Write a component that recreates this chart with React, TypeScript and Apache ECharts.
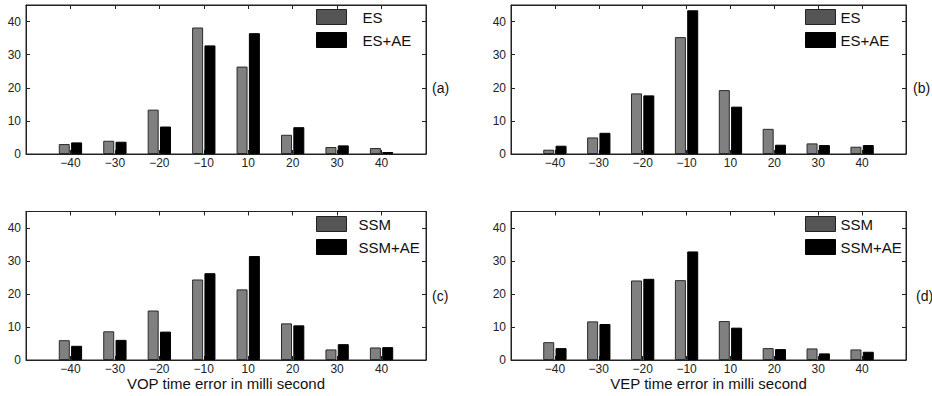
import React, { useEffect, useRef } from "react";
import * as echarts from "echarts";

const tickLabels = ["−40", "−30", "−20", "−10", "10", "20", "30", "40"];
const yTicks = [0, 10, 20, 30, 40];

const esA = [3.0, 4.0, 13.4, 38.2, 26.4, 5.8, 2.1, 1.8];
const esAeA = [3.5, 3.7, 8.3, 32.8, 36.5, 8.1, 2.6, 0.6];
const esB = [1.3, 5.0, 18.3, 35.3, 19.3, 7.6, 3.2, 2.2];
const esAeB = [2.5, 6.4, 17.7, 43.4, 14.3, 2.8, 2.7, 2.7];
const ssmC = [6.0, 8.7, 15.0, 24.4, 21.4, 11.1, 3.2, 3.8];
const ssmAeC = [4.3, 6.1, 8.6, 26.3, 31.5, 10.5, 4.8, 3.9];
const ssmD = [5.4, 11.7, 24.1, 24.2, 11.8, 3.6, 3.5, 3.2];
const ssmAeD = [3.6, 10.9, 24.6, 32.9, 9.8, 3.3, 2.0, 2.5];

const panelLabels = ["(a)", "(b)", "(c)", "(d)"];
const legendNames = [
  ["ES", "ES+AE"],
  ["ES", "ES+AE"],
  ["SSM", "SSM+AE"],
  ["SSM", "SSM+AE"],
];
const xNames = ["", "", "VOP time error in milli second", "VEP time error in milli second"];

const FONT = "'Liberation Sans', Arial, Helvetica, sans-serif";

export default function App() {
  const ref = useRef<HTMLDivElement>(null);
  useEffect(() => {
    if (!ref.current) return;
    const chart = echarts.init(ref.current, undefined, { renderer: "svg" });
    const cats = ["", ...tickLabels, ""];
    const pad = (a: number[]) => [null, ...a, null];
    const lineColor = "#222";
    const grids = [
      { left: 26, top: 5, width: 400, height: 149 },
      { left: 511, top: 5, width: 395, height: 149 },
      { left: 26, top: 211.5, width: 400, height: 148.5 },
      { left: 511, top: 211.5, width: 395, height: 148.5 },
    ];
    const data = [
      [esA, esAeA],
      [esB, esAeB],
      [ssmC, ssmAeC],
      [ssmD, ssmAeD],
    ];
    const legendPos = [
      { left: 316, top: 9, pad: 11 },
      { left: 805, top: 9, pad: 0 },
      { left: 316, top: 216, pad: 7 },
      { left: 805, top: 216, pad: 0 },
    ];
    const labelPos = [
      { x: 432, y: 88 },
      { x: 913, y: 88 },
      { x: 432, y: 296 },
      { x: 916, y: 296 },
    ];
    const xAxis: any[] = [];
    const yAxis: any[] = [];
    const series: any[] = [];
    const legend: any[] = [];
    const graphic: any[] = [];
    grids.forEach((g, i) => {
      xAxis.push({
        type: "category",
        gridIndex: i,
        data: cats,
        boundaryGap: false,
        position: "bottom",
        axisLine: { onZero: false, lineStyle: { color: lineColor, width: 1 } },
        axisTick: { inside: true, length: 4, lineStyle: { color: lineColor } },
        axisLabel: { color: "#222", fontSize: 12, fontFamily: FONT, margin: 3, interval: 0 },
        name: xNames[i],
        nameLocation: "middle",
        nameGap: 15,
        nameTextStyle: { color: "#111", fontSize: 15, fontFamily: FONT },
      });
      xAxis.push({
        type: "category",
        gridIndex: i,
        data: cats,
        boundaryGap: false,
        position: "top",
        axisLine: { onZero: false, lineStyle: { color: lineColor, width: 1 } },
        axisTick: { inside: true, length: 4, lineStyle: { color: lineColor } },
        axisLabel: { show: false },
      });
      yAxis.push({
        type: "value",
        gridIndex: i,
        min: 0,
        max: 45,
        interval: 10,
        position: "left",
        splitLine: { show: false },
        axisLine: { show: true, onZero: false, lineStyle: { color: lineColor, width: 1 } },
        axisTick: { show: true, inside: true, length: 4, lineStyle: { color: lineColor } },
        axisLabel: {
          color: "#222",
          fontSize: 12,
          fontFamily: FONT,
          margin: 5,
          showMaxLabel: false,
          formatter: (v: number) => (yTicks.includes(v) ? String(v) : ""),
        },
      });
      yAxis.push({
        type: "value",
        gridIndex: i,
        min: 0,
        max: 45,
        interval: 10,
        position: "right",
        splitLine: { show: false },
        axisLine: { show: true, onZero: false, lineStyle: { color: lineColor, width: 1 } },
        axisTick: { show: true, inside: true, length: 4, lineStyle: { color: lineColor } },
        axisLabel: { show: false },
      });
      const [s1, s2] = data[i];
      const [n1, n2] = legendNames[i];
      series.push({
        type: "bar",
        name: n1,
        xAxisIndex: i * 2,
        yAxisIndex: i * 2,
        data: pad(s1),
        barWidth: 11,
        barGap: "12%",
        itemStyle: { color: "#808080", borderColor: "#2a2a2a", borderWidth: 1 },
        z: 1,
      });
      series.push({
        type: "bar",
        name: n2,
        xAxisIndex: i * 2,
        yAxisIndex: i * 2,
        data: pad(s2),
        barWidth: 11,
        barGap: "12%",
        itemStyle: { color: "#000", borderColor: "#000", borderWidth: 1 },
        z: 1,
      });
      const lp = legendPos[i];
      legend.push({
        orient: "vertical",
        left: lp.left,
        top: lp.top,
        itemWidth: 30,
        itemHeight: 15,
        itemGap: 7,
        padding: 0,
        selectedMode: false,
        icon: "rect",
        textStyle: { color: "#111", fontSize: 15, fontFamily: FONT, padding: [0, 0, 0, lp.pad] },
        data: [
          { name: n1, itemStyle: { color: "#555", borderColor: "#222", borderWidth: 1 } },
          { name: n2, itemStyle: { color: "#000", borderColor: "#000", borderWidth: 1 } },
        ],
      });
      graphic.push({
        type: "text",
        x: labelPos[i].x,
        y: labelPos[i].y,
        style: {
          text: panelLabels[i],
          fill: "#111",
          font: `14px ${FONT}`,
          textVerticalAlign: "middle",
        },
      });
    });
    chart.setOption({
      animation: false,
      backgroundColor: "#fff",
      grid: grids.map((g) => ({
        ...g,
        containLabel: false,
        show: true,
        borderColor: lineColor,
        borderWidth: 1,
      })),
      xAxis,
      yAxis,
      series,
      legend,
      graphic,
    });
    return () => chart.dispose();
  }, []);
  return (
    <div
      ref={ref}
      style={{ position: "absolute", left: 0, top: 0, width: 932, height: 396 }}
    />
  );
}
